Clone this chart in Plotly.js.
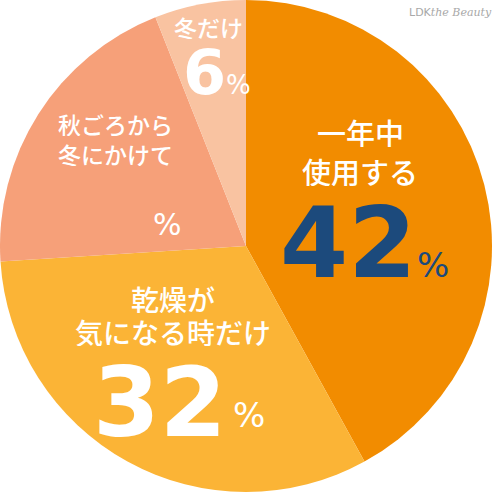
<!DOCTYPE html>
<html>
<head>
<meta charset="utf-8">
<script src="https://cdn.plot.ly/plotly-3.0.1.min.js"></script>
<style>
  html, body { margin: 0; padding: 0; background: #fff; }
  #chart { width: 500px; height: 500px; }
</style>
</head>
<body>
<div id="chart"></div>
<script>
// Survey answers (clockwise from 12 o'clock).
const categories = ["一年中<br>使用する", "乾燥が<br>気になる時だけ", "秋ごろから<br>冬にかけて", "冬だけ"];
const shares = [42, 32, 20, 6];
// Number printed in each slice (the autumn slice shows only "%" in the source).
const shownNumbers = ["42", "32", "", "6"];

const COLORS = ["#F28C00", "#FBB436", "#F6A079", "#F9C3A1"];

// Label placement per slice, in pixels of the 500x500 picture.
// cat = centre of first caption line, gap = distance between caption lines.
const LABEL_POS = [
  { cat: [360, 132], gap: 39, num: [348, 243], pct: [433, 264], catSize: 29, numSize: 98, pctSize: 34, numColor: "#1C4A7C", pctColor: "#1C4A7C" },
  { cat: [173, 298], gap: 33, num: [160, 402], pct: [249, 414], catSize: 28, numSize: 96, pctSize: 34, numColor: "#FFFFFF", pctColor: "#FFFFFF" },
  { cat: [115, 124], gap: 30, num: [167, 224], pct: [167, 224], catSize: 23, numSize: 60, pctSize: 30, numColor: "#FFFFFF", pctColor: "#FFFFFF" },
  { cat: [208, 27],  gap: 0,  num: [204, 72],  pct: [238, 84],  catSize: 23, numSize: 62, pctSize: 26, numColor: "#FFFFFF", pctColor: "#FFFFFF" },
];

const px = (x) => x / 500;
const py = (y) => 1 - y / 500;

const annotations = [];
categories.forEach((cat, i) => {
  const p = LABEL_POS[i];
  cat.split("<br>").forEach((line, k) => {
    annotations.push({
      xref: "paper", yref: "paper", x: px(p.cat[0]), y: py(p.cat[1] + k * p.gap),
      xanchor: "center", yanchor: "middle", showarrow: false,
      text: line, height: Math.round(p.catSize * 1.05),
      font: { family: "Noto Sans CJK JP", size: p.catSize, color: "#FFFFFF", weight: 500 },
    });
  });
  if (shownNumbers[i]) {
    annotations.push({
      xref: "paper", yref: "paper", x: px(p.num[0]), y: py(p.num[1]),
      xanchor: "center", yanchor: "middle", showarrow: false,
      text: `<b>${shownNumbers[i]}</b>`, height: Math.round(p.numSize * 0.8),
      font: { family: "DejaVu Sans", size: p.numSize, color: p.numColor },
    });
  }
  annotations.push({
    xref: "paper", yref: "paper", x: px(p.pct[0]), y: py(p.pct[1]),
    xanchor: "center", yanchor: "middle", showarrow: false,
    text: "%", height: Math.round(p.pctSize * 0.8),
    font: { family: "DejaVu Sans", size: p.pctSize, color: p.pctColor },
  });
});

// Watermark
annotations.push({
  xref: "paper", yref: "paper", x: px(494), y: py(12),
  xanchor: "right", yanchor: "middle", showarrow: false,
  text: '<span style="font-family:DejaVu Sans">LDK</span><i>the Beauty</i>',
  font: { family: "DejaVu Serif", size: 11, color: "#A8A8A8" },
});

const data = [{
  type: "pie",
  values: shares,
  labels: categories,
  sort: false,
  direction: "clockwise",
  rotation: 0,
  textinfo: "none",
  hoverinfo: "skip",
  marker: { colors: COLORS, line: { width: 0 } },
  domain: { x: [0, 0.984], y: [0.016, 1] },
}];

const layout = {
  width: 500, height: 500,
  margin: { l: 0, r: 0, t: 0, b: 0 },
  paper_bgcolor: "#FFFFFF",
  showlegend: false,
  annotations,
};

Plotly.newPlot("chart", data, layout, { displayModeBar: false, staticPlot: true });
</script>
</body>
</html>
